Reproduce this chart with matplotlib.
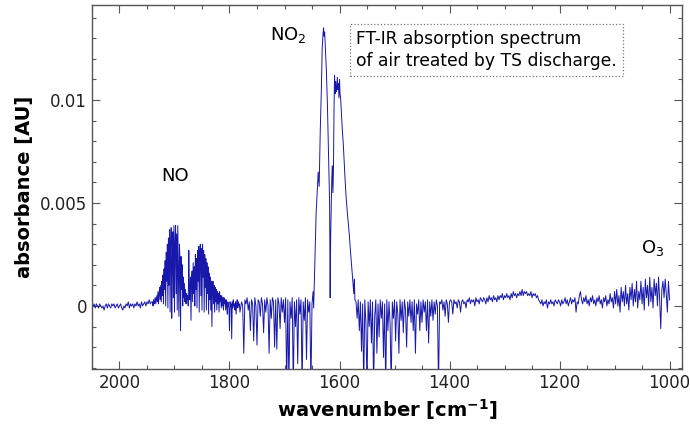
import numpy as np
import matplotlib
matplotlib.use('Agg')
import matplotlib.pyplot as plt
from matplotlib.ticker import MultipleLocator, FuncFormatter

# Absorbance values in units of 1e-4 AU.
# Uniformly sampled segments (step given, from the given start wavenumber).
base_start = 2050
base_vals = [1, 0, 1, -1, 1, 0, -1, 1, 0, -1,
             0, -2, 0, 1, -1, 1, 0, -1, 1, 0,
             1, -1, 0, 1, -1, 0, 1, -1, -2, 0,
             -1, 1, 0, 2, -1, 1, 0, 1, -1, 1,
             0, 2, 0, 1, -1, 2, 0, 1, 2, 0,
             2, 1, 3, 1, 2]

# NO band, every 1 cm-1 from 1940
no_start = 1940
no_vals = [2, 0, 3, 1, 2, 4, 1, 3, 5, 2,
           7, 1, 6, 9, 3, 10, 2, 12, 5, 15,
           1, 18, 8, 22, 0, 26, 12, 30, -1, 33,
           10, 37, -3, 28, 38, -6, 20, 36, 4, 39,
           -3, 31, 39, 6, 35, -2, 39, 18, -5, 30,
           22, -12, 24, 8, 20, 0, 14, 4, 11, 2,
           8, 1, 6, 3, 5, 0, 27, 9, 3, 14,
           -7, 12, 17, 2, 21, 6, 19, 0, 25, 8,
           23, -1, 27, 12, 29, -3, 26, 30, 5, 28,
           -2, 30, 14, 27, -3, 25, 9, 23, -2, 21,
           6, 19, -4, 16, 3, 14, -2, 12, -10, 8,
           12, 1, 10, -3, 9, 2, 8, -2, 7, 1,
           6, -3, 7, 2, 5, -1, 5, 0, 4, -2,
           4, 1, 3, -2, 3, 0, -4, 2, 1, -1,
           -12, 2, 0, 1, -16, 2, -1, 3, 0, 1,
           -2, 2, -4, 1, 3, -1, 2, 0, 1, -3]

gap_start = 1778
gap_vals = [2, 0, -23, 3, 1, 4, -2, 2, -12, 3,
            1, -17, 4, 0, -19, 3, 2, -5, 4, 1,
            -13, 3, -3, 4, 0, -23, 3, -6, 4, 2,
            -20, 3, -21, 4, 1, -11, 4, -3, 3, -8,
            4, -40, 3, -40, 2, -6, 4, -40, 2, -10,
            3, -28, 4, -4, 3, -40, 2, -7, 4, -26,
            3, -3, 2, -40, 1]

# NO2 band, explicit wavenumbers
no2_wn = [1648, 1647, 1645, 1642.5, 1640, 1638.7, 1637, 1635, 1633, 1631.5,
          1630, 1629, 1628, 1627, 1626, 1624, 1622, 1620.5, 1619, 1618,
          1617, 1616, 1615, 1614, 1613, 1612, 1611, 1610, 1609, 1608,
          1607, 1606, 1605, 1604, 1603, 1602, 1601, 1600, 1599, 1598,
          1597, 1595, 1593, 1591.5, 1590, 1588, 1586, 1584, 1582, 1580.5,
          1579, 1577, 1575, 1574, 1573, 1572]
no2_vals = [7, -1, 20, 45, 58, 65, 58, 85, 105, 125,
            132, 135, 131, 133, 127, 115, 98, 80, 62, 50,
            4, 35, 50, 62, 68, 55, 66, 95, 112, 103,
            109, 104, 106, 111, 105, 108, 101, 110, 103, 101,
            96, 86, 78, 70, 62, 53, 46, 40, 34, 28,
            23, 16, 10, 6, 13, 3]

mid_start = 1570
mid_vals = [2, -6, 3, -12, 2, -22, 1, -40, 3, -8,
            -40, 2, -10, 3, -18, 2, -40, -5, 3, -23,
            1, -15, 3, -6, 2, -25, 1, -40, 3, -12,
            2, -9, -40, 2, -6, 3, -17, 2, -4, -23,
            3, -7, 2, -13, 3, -2, -20, 2, -5, 3,
            -8, 2, -12, 3, -23, 1, -4, 3, -12, 2,
            -8, 3, -3, 2, -12, 3, -18, 2, -5, 3,
            -7, 2, -4, 3, 0, -40, 2]

tail_start = 1416
tail_vals = [1, 3, -2, 2, -5, 3, 1, -8, 2, 3,
             2, -4, 3, 1, 2, -1, 3, 2, -3, 2,
             3, 1, 2, -1, 3, 2, 4, 1, 3, 2,
             3, 0, 4, 2, 3, 1, 4, 3, 2, 4,
             3, 1, 4, 2, 5, 3, 4, 2, 5, 3,
             4, 2, 5, 3, 5, 4, 6, 3, 5, 4,
             6, 4, 5, 3, 6, 4, 7, 5, 6, 4,
             6, 5, 7, 5, 8, 5, 7, 6, 7, 5,
             6, 5, 7, 4, 6, 5, 6, 4, 5, 3,
             2, 1, 3, 0, 2, 1, 3, -1, 2, 1,
             3, 1, 2, 0, 3, 2, 1, 3, 2, 0,
             3, 1, 2, 4, 1, 3, 0, 2, 4, 1,
             3, 2, 4, -3, 2, 1, 5, 7, 3, 1,
             4, 2, 5, 1, 3, 0, 4, 2, 5, 1,
             3, 0, 4, 2, 5, 1, 3, -1, 4, 2,
             5, 0, 3, 1, 6, 2, 4, -1, 7, 1,
             8, 0, 5, -3, 9, 2, 7, 0, 10, 1,
             6, -2, 9, 3, 11, 0, 8, 2, 12, -1,
             7, 3, 12, 1, 9, -2, 13, 4, 10, 0,
             14, 2, 9, -1, 13, 5, 11, 0, 14, 3,
             -11, 8, 12, 4, 13, 6, -3, 12, 3]


def segment(start, vals, step=2.0):
    return start - step * np.arange(len(vals)), np.asarray(vals, float)


parts = [segment(base_start, base_vals),
         segment(no_start, no_vals, 1.0),
         segment(gap_start, gap_vals),
         (np.asarray(no2_wn, float), np.asarray(no2_vals, float)),
         segment(mid_start, mid_vals),
         segment(tail_start, tail_vals)]
wn = np.concatenate([p[0] for p in parts])
absorb = np.concatenate([p[1] for p in parts]) * 1e-4

fig = plt.figure(figsize=(6.9, 4.28), dpi=100)
ax = fig.add_axes([0.1333, 0.1379, 0.855, 0.8504])
ax.plot(wn, absorb, color='#1818aa', lw=0.7)

ax.set_xlim(2050, 977.5)
ax.set_ylim(-0.00306, 0.01461)

ax.xaxis.set_major_locator(MultipleLocator(200))
ax.xaxis.set_minor_locator(MultipleLocator(50))
ax.yaxis.set_major_locator(MultipleLocator(0.005))
ax.yaxis.set_minor_locator(MultipleLocator(0.001))
ax.yaxis.set_major_formatter(FuncFormatter(lambda v, p: '%g' % round(v, 6)))
ax.tick_params(which='both', direction='in', top=True, right=True,
               labelsize=12, colors='#222222')
ax.tick_params(which='major', length=6, width=0.8, color='#555555')
ax.tick_params(which='minor', length=3, width=0.8, color='#555555')
for s in ax.spines.values():
    s.set_color('#555555')
    s.set_linewidth(1.0)

ax.set_xlabel(r'wavenumber [cm$^{\mathbf{-1}}$]', fontsize=14, fontweight='bold')
ax.set_ylabel('absorbance [AU]', fontsize=14, fontweight='bold')

ax.text(1899, 0.0063, 'NO', fontsize=13, ha='center', va='center')
ax.text(1693, 0.01316, r'NO$_2$', fontsize=13, ha='center', va='center')
ax.text(1030, 0.00282, r'O$_3$', fontsize=13, ha='center', va='center')

ax.text(0.4475, 0.9315,
        'FT-IR absorption spectrum\nof air treated by TS discharge.',
        transform=ax.transAxes, fontsize=12.3, ha='left', va='top',
        linespacing=1.3,
        bbox=dict(boxstyle='square,pad=0.35', facecolor='white',
                  edgecolor='#777777', linestyle=':', linewidth=0.9))

fig.savefig('out.png', dpi=100)
